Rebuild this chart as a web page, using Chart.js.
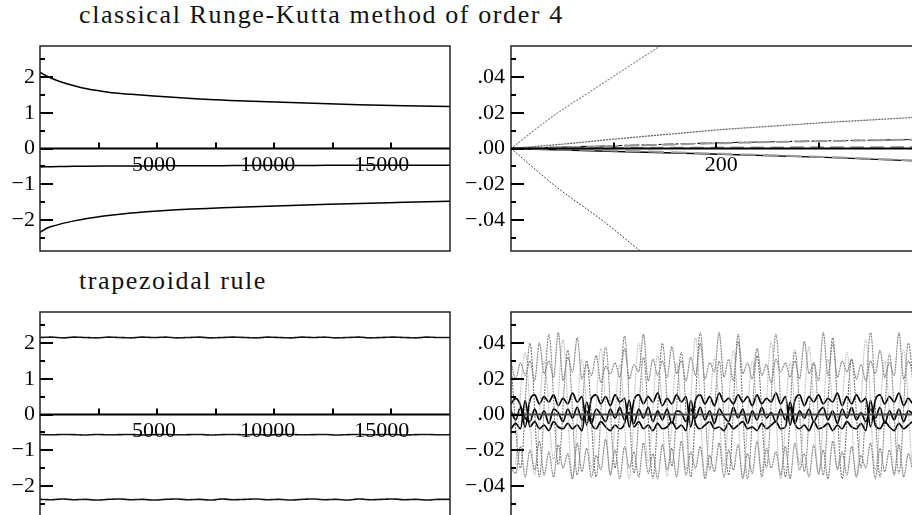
<!DOCTYPE html>
<html>
<head>
<meta charset="utf-8">
<script src="https://cdn.jsdelivr.net/npm/chart.js@4.4.1/dist/chart.umd.min.js"></script>
<style>
  html, body { margin: 0; padding: 0; background: #fff; }
  body { width: 912px; height: 515px; overflow: hidden; position: relative; }
  canvas { position: absolute; }
  .ttl { position: absolute; font-family: "Liberation Serif", serif; font-size: 26px; line-height: 26px;
         letter-spacing: 1.6px; color: #111; white-space: nowrap; }
</style>
</head>
<body>
<div class="ttl" style="left:79px; top:2px;">classical Runge-Kutta method of order 4</div>
<div class="ttl" style="left:79px; top:268px;">trapezoidal rule</div>
<canvas id="tl" width="460" height="280" style="left:0; top:0;"></canvas>
<canvas id="tr" width="480" height="280" style="left:460px; top:0;"></canvas>
<canvas id="bl" width="460" height="260" style="left:0; top:280px;"></canvas>
<canvas id="br" width="480" height="260" style="left:460px; top:280px;"></canvas>
<script>
// ---------------- DATA ----------------
// Top-left: classical RK4, long time
const tlX  = [0, 250, 500, 1000, 1500, 2000, 3000, 4000, 5000, 6000, 7000, 8000, 9000, 10000, 12000, 14000, 16000, 18000];
const tlA  = [2.14, 2.05, 1.97, 1.85, 1.76, 1.68, 1.58, 1.52, 1.47, 1.43, 1.39, 1.36, 1.33, 1.31, 1.27, 1.23, 1.20, 1.18];
const tlB  = [-0.52, -0.515, -0.51, -0.505, -0.50, -0.497, -0.493, -0.49, -0.488, -0.485, -0.483, -0.481, -0.479, -0.477, -0.474, -0.471, -0.469, -0.467];
const tlC  = [-2.35, -2.25, -2.19, -2.10, -2.03, -1.97, -1.88, -1.81, -1.76, -1.72, -1.69, -1.66, -1.64, -1.62, -1.58, -1.54, -1.51, -1.48];

// Top-right: classical RK4, errors at short time
const trAx = [0, 42, 73, 142, 160];
const trA  = [0, 0.019, 0.031, 0.0575, 0.064];
const trBx = [0, 42, 89.5, 123, 140];
const trB  = [0, -0.021, -0.0415, -0.0575, -0.065];
const trCx = [0, 50, 100, 150, 200, 250, 300, 350, 390];
const trC  = [0, 0.0025, 0.0054, 0.0080, 0.0106, 0.0126, 0.0146, 0.0163, 0.0177];
const trLx = [0, 100, 200, 300, 390];
const trD  = [0, 0.0016, 0.0032, 0.0043, 0.0051];
const trE  = [0, 0.0014, 0.0030, 0.0042, 0.0050];
const trF  = [0, 0.0003, 0.0005, 0.0007, 0.0008];
const trG  = [0, -0.0017, -0.0032, -0.0050, -0.0071];
const trH  = [0, -0.0012, -0.0030, -0.0048, -0.0068];

// Bottom-left: trapezoidal rule, long time
const blX = [0,500,1000,1500,2000,2500,3000,3500,4000,4500,5000,5500,6000,6500,7000,7500,8000,8500,9000,9500,10000,10500,11000,11500,12000,12500,13000,13500,14000,14500,15000,15500,16000,16500,17000,17500,18000];
const blA = [2.16,2.17,2.15,2.17,2.16,2.15,2.17,2.16,2.15,2.17,2.16,2.17,2.15,2.16,2.17,2.15,2.16,2.17,2.16,2.15,2.17,2.16,2.15,2.17,2.16,2.17,2.15,2.16,2.17,2.15,2.16,2.17,2.16,2.15,2.17,2.16,2.16];
const blB = [-0.56,-0.57,-0.56,-0.565,-0.575,-0.56,-0.57,-0.565,-0.56,-0.575,-0.565,-0.56,-0.57,-0.565,-0.56,-0.575,-0.565,-0.56,-0.57,-0.56,-0.575,-0.565,-0.56,-0.57,-0.565,-0.56,-0.575,-0.565,-0.56,-0.57,-0.565,-0.56,-0.575,-0.565,-0.56,-0.57,-0.565];
const blC = [-2.38,-2.39,-2.37,-2.39,-2.38,-2.40,-2.38,-2.37,-2.39,-2.38,-2.40,-2.38,-2.37,-2.39,-2.38,-2.40,-2.37,-2.39,-2.38,-2.37,-2.39,-2.38,-2.40,-2.38,-2.37,-2.39,-2.38,-2.40,-2.37,-2.39,-2.38,-2.37,-2.39,-2.38,-2.40,-2.38,-2.38];

// Bottom-right: trapezoidal rule, errors at short time
const brX = [0,4.5,9,13.5,18,22.5,27,31.5,36,40.5,45,49.5,54,58.5,63,67.5,72,76.5,81,85.5,90,94.5,99,103.5,108,112.5,117,121.5,126,130.5,135,139.5,144,148.5,153,157.5,162,166.5,171,175.5,180,184.5,189,193.5,198,202.5,207,211.5,216,220.5,225,229.5,234,238.5,243,247.5,252,256.5,261,265.5,270,274.5,279,283.5,288,292.5,297,301.5,306,310.5,315,319.5,324,328.5,333,337.5,342,346.5,351,355.5,360,364.5,369,373.5,378,382.5,387,391.5];
const brUp = [0.030,0.020,0.029,0.022,0.030,0.019,0.040,0.023,0.030,0.021,0.046,0.019,0.032,0.024,0.043,0.020,0.028,0.022,0.033,0.018,0.027,0.023,0.029,0.021,0.037,0.020,0.028,0.024,0.045,0.019,0.031,0.022,0.030,0.021,0.038,0.023,0.030,0.019,0.032,0.022,0.040,0.020,0.029,0.024,0.046,0.021,0.031,0.019,0.045,0.023,0.029,0.020,0.037,0.022,0.028,0.018,0.031,0.024,0.029,0.021,0.030,0.020,0.041,0.023,0.029,0.019,0.046,0.022,0.040,0.021,0.030,0.024,0.031,0.020,0.028,0.019,0.030,0.023,0.036,0.021,0.029,0.022,0.046,0.020,0.030,0.024,0.031,0.019];
const brLo = [-0.030,-0.033,-0.018,-0.035,-0.020,-0.031,-0.015,-0.034,-0.021,-0.035,-0.017,-0.030,-0.022,-0.036,-0.016,-0.032,-0.019,-0.035,-0.023,-0.031,-0.014,-0.034,-0.020,-0.036,-0.018,-0.030,-0.021,-0.035,-0.016,-0.033,-0.022,-0.036,-0.017,-0.031,-0.019,-0.035,-0.015,-0.034,-0.021,-0.030,-0.018,-0.036,-0.023,-0.032,-0.016,-0.035,-0.020,-0.031,-0.017,-0.036,-0.022,-0.033,-0.015,-0.035,-0.019,-0.030,-0.021,-0.034,-0.018,-0.036,-0.016,-0.031,-0.022,-0.035,-0.017,-0.033,-0.020,-0.036,-0.015,-0.031,-0.021,-0.034,-0.018,-0.035,-0.023,-0.030,-0.016,-0.036,-0.019,-0.032,-0.020,-0.034,-0.017,-0.035,-0.022,-0.031,-0.018,-0.033];
const brSwX1 = [0,9,18,27,36,45,54,63,72,81,90,99,108,117,126,135,144,153,162,171,180,189,198,207,216,225,234,243,252,261,270,279,288,297,306,315,324,333,342,351,360,369,378,387];
const brSw1  = [0.028,-0.030,0.040,-0.035,0.045,-0.028,0.036,-0.034,0.030,-0.035,0.038,-0.030,0.044,-0.033,0.032,-0.036,0.040,-0.029,0.035,-0.035,0.046,-0.031,0.030,-0.034,0.041,-0.036,0.033,-0.030,0.045,-0.035,0.036,-0.032,0.029,-0.034,0.043,-0.036,0.031,-0.030,0.046,-0.035,0.034,-0.033,0.040,-0.031];
const brSwX2 = [4.5,13.5,22.5,31.5,40.5,49.5,58.5,67.5,76.5,85.5,94.5,103.5,112.5,121.5,130.5,139.5,148.5,157.5,166.5,175.5,184.5,193.5,202.5,211.5,220.5,229.5,238.5,247.5,256.5,265.5,274.5,283.5,292.5,301.5,310.5,319.5,328.5,337.5,346.5,355.5,364.5,373.5,382.5,391.5];
const brSw2  = [-0.028,0.035,-0.034,0.030,-0.025,0.042,-0.035,0.031,-0.030,0.037,-0.033,0.028,-0.036,0.040,-0.027,0.033,-0.035,0.029,-0.031,0.043,-0.034,0.032,-0.029,0.036,-0.035,0.030,-0.032,0.041,-0.036,0.029,-0.028,0.038,-0.034,0.031,-0.030,0.035,-0.035,0.042,-0.031,0.030,-0.033,0.036,-0.029,0.032];
const brS1 = [0.006,0.009,0.005,-0.007,0.008,0.011,0.006,0.010,0.007,0.011,0.005,0.009,0.006,0.012,0.007,0.010,-0.006,0.009,0.011,0.006,0.010,0.005,0.011,0.007,0.009,-0.007,0.008,0.011,0.006,0.010,0.007,0.012,0.005,0.009,0.006,0.011,0.007,0.010,-0.007,0.008,0.011,0.006,0.010,0.005,0.012,0.007,0.009,0.006,0.011,0.007,0.010,0.005,0.011,0.006,0.009,0.007,0.012,0.006,0.010,-0.006,0.008,0.011,0.005,0.010,0.007,0.011,0.006,0.009,0.007,0.012,0.005,0.010,0.006,0.011,0.007,0.009,-0.007,0.008,0.011,0.006,0.010,0.007,0.012,0.005,0.009,0.006,0.011,0.007];
const brS2 = [-0.008,-0.005,-0.008,0.008,-0.007,-0.004,-0.008,-0.006,-0.009,-0.004,-0.007,-0.008,-0.005,-0.008,-0.006,-0.009,0.007,-0.005,-0.008,-0.004,-0.007,-0.009,-0.006,-0.008,-0.005,0.008,-0.007,-0.004,-0.008,-0.006,-0.009,-0.005,-0.008,-0.007,-0.004,-0.008,-0.006,-0.009,0.008,-0.005,-0.008,-0.006,-0.004,-0.008,-0.007,-0.009,-0.005,-0.008,-0.006,-0.004,-0.008,-0.007,-0.009,-0.005,-0.008,-0.006,-0.004,-0.008,-0.007,0.007,-0.005,-0.008,-0.006,-0.009,-0.004,-0.008,-0.007,-0.005,-0.009,-0.006,-0.008,-0.004,-0.007,-0.008,-0.005,-0.009,0.008,-0.006,-0.008,-0.004,-0.007,-0.009,-0.005,-0.008,-0.006,-0.004,-0.008,-0.007];
const brS3 = [0.002,-0.003,0.004,-0.002,-0.004,0.003,-0.003,0.002,-0.005,0.003,0.001,-0.004,0.003,-0.002,0.004,-0.003,0.002,-0.005,0.003,0.000,-0.004,0.003,-0.002,0.004,-0.003,0.001,-0.005,0.003,-0.002,0.004,-0.004,0.002,-0.003,0.003,-0.005,0.002,0.001,-0.004,0.003,-0.002,0.004,-0.003,0.002,-0.005,0.003,-0.001,-0.004,0.004,-0.002,0.003,-0.005,0.002,-0.003,0.004,-0.002,0.001,-0.004,0.003,-0.003,0.004,-0.005,0.002,-0.002,0.003,-0.004,0.001,0.004,-0.003,0.002,-0.005,0.003,-0.002,0.004,-0.003,0.001,-0.004,0.003,-0.002,0.004,-0.005,0.002,-0.003,0.003,-0.004,0.002,0.000,-0.004,0.003];

// Axis ranges / ticks
const leftYRange  = [-2.875, 2.875];
const rightYRange = [-0.0575, 0.0575];
const leftXRange  = [0, 18000];
const rightXRange = [0, 390];
const leftXLabels  = [5000, 10000, 15000];
const rightXLabels = [200];

// ---------------- HELPERS ----------------
const FONT = '"Liberation Serif", "Times New Roman", serif';
Chart.defaults.font.family = FONT;
Chart.defaults.color = '#000';

function pts(xs, ys) {
  const n = Math.min(xs.length, ys.length);
  const out = [];
  for (let i = 0; i < n; i++) out.push({ x: xs[i], y: ys[i] });
  return out;
}
const isMult = (v, m) => Math.abs(v / m - Math.round(v / m)) < 1e-6;
const MINUS = '\u2212';
const fmtInt = v => { const r = Math.round(v); return r < 0 ? MINUS + Math.abs(r) : String(r); };
const fmtDec = v => { const s = Math.abs(v).toFixed(2).replace(/^0/, ''); return v < -1e-9 ? MINUS + s : s; };

// per-chart settings for the axis plugin (kept outside Chart.js option resolution)
const AXES = {};

const axesPlugin = {
  id: 'axesDraw',
  afterDatasetsDraw(chart) {
    const o = AXES[chart.canvas.id];
    const { ctx, chartArea: a, scales: { x, y } } = chart;
    ctx.save();
    const y0 = y.getPixelForValue(0);
    // zero line
    ctx.strokeStyle = o.zeroColor;
    ctx.lineWidth = 2;
    ctx.beginPath(); ctx.moveTo(a.left, y0); ctx.lineTo(a.right, y0); ctx.stroke();
    // frame
    ctx.strokeStyle = '#222';
    ctx.lineWidth = 1.5;
    ctx.strokeRect(a.left, a.top, a.right - a.left, a.bottom - a.top);
    // y ticks (inward)
    ctx.strokeStyle = '#000';
    ctx.lineWidth = 2;
    y.ticks.forEach(t => {
      if (t.value <= y.min + 1e-9 || t.value >= y.max - 1e-9) return;
      const py = Math.round(y.getPixelForValue(t.value));
      const len = isMult(t.value, o.yMajor) ? 13 : 5;
      ctx.beginPath(); ctx.moveTo(a.left, py); ctx.lineTo(a.left + len, py); ctx.stroke();
    });
    // x ticks (upward from zero line) with labels below it
    if (o.xTicks) {
      ctx.fillStyle = '#000';
      ctx.font = '22px ' + FONT;
      ctx.textAlign = 'center';
      ctx.textBaseline = 'alphabetic';
      x.ticks.forEach(t => {
        if (t.value <= x.min + 1e-9 || t.value >= x.max - 1e-9) return;
        const px = Math.round(x.getPixelForValue(t.value));
        const len = isMult(t.value, o.xMajor) ? 13 : 6;
        ctx.beginPath(); ctx.moveTo(px, y0); ctx.lineTo(px, y0 - len); ctx.stroke();
      });
      o.xLabels.forEach(v => {
        const px = x.getPixelForValue(v);
        ctx.fillText(String(v), px, y0 + 22);
      });
    }
    ctx.restore();
  }
};

function makeChart(id, c) {
  const fixW = s => { s.width = c.yW; s.paddingTop = 0; s.paddingBottom = 0; };
  const fixH = s => { s.height = 0; s.paddingLeft = 0; s.paddingRight = 0; };
  AXES[id] = c.axes;
  return new Chart(document.getElementById(id), {
    type: 'line',
    data: { datasets: c.datasets },
    options: {
      responsive: false,
      animation: false,
      devicePixelRatio: 1,
      events: [],
      layout: { padding: c.pad },
      elements: { point: { radius: 0 }, line: { cubicInterpolationMode: 'monotone', borderCapStyle: 'round' } },
      plugins: { legend: { display: false }, tooltip: { enabled: false } },
      scales: {
        x: {
          type: 'linear', min: c.xr[0], max: c.xr[1], position: { y: 0 }, afterFit: fixH,
          grid: { display: false, drawTicks: false }, border: { display: false },
          ticks: { stepSize: c.xStep, autoSkip: false, includeBounds: false, maxRotation: 0, minRotation: 0,
                   display: false }
        },
        y: {
          type: 'linear', min: c.yr[0], max: c.yr[1], position: 'left', afterFit: fixW,
          grid: { display: false, drawTicks: false }, border: { display: false },
          ticks: { stepSize: c.yStep, autoSkip: false, includeBounds: false, padding: c.yPad,
                   color: '#000', font: { family: FONT, size: 22 }, callback: c.yLabel }
        }
      }
    },
    plugins: [axesPlugin]
  });
}

const solid = (data, w) => ({ data, borderColor: '#000', borderWidth: w || 1.5, fill: false });
const styled = (data, color, w, dash) => ({ data, borderColor: color, borderWidth: w, borderDash: dash, fill: false });

const leftYLabel  = v => isMult(v, 1) ? fmtInt(v) : '';
const rightYLabel = v => isMult(v, 0.02) ? fmtDec(v) : '';

// ---------------- CHARTS ----------------
makeChart('tl', {
  xr: leftXRange, yr: leftYRange, xStep: 2500, yStep: 0.5, yW: 40, yPad: 5,
  pad: { left: 0, top: 46, right: 10, bottom: 29 },
  yLabel: leftYLabel,
  axes: { xTicks: true, xMajor: 5000, yMajor: 1, zeroColor: '#000', xLabels: leftXLabels },
  datasets: [solid(pts(tlX, tlA)), solid(pts(tlX, tlB)), solid(pts(tlX, tlC))]
});

makeChart('tr', {
  xr: rightXRange, yr: rightYRange, xStep: 100, yStep: 0.01, yW: 51, yPad: 6,
  pad: { left: 0, top: 46, right: 19, bottom: 29 },
  yLabel: rightYLabel,
  axes: { xTicks: true, xMajor: 200, yMajor: 0.02, zeroColor: '#000', xLabels: rightXLabels },
  datasets: [
    styled(pts(trAx, trA), '#888', 1.2, [1, 2.4]),
    styled(pts(trBx, trB), '#333', 1.0, [1, 2.4]),
    styled(pts(trCx, trC), '#666', 1.3, [1, 2]),
    styled(pts(trLx, trE), '#999', 2, [12, 7]),
    styled(pts(trLx, trD), '#111', 1.1, [9, 3, 2, 3]),
    styled(pts(trLx, trF), '#999', 2, [12, 8]),
    styled(pts(trLx, trH), '#999', 2, [14, 9]),
    solid(pts(trLx, trG), 1.4)
  ]
});

makeChart('bl', {
  xr: leftXRange, yr: leftYRange, xStep: 2500, yStep: 0.5, yW: 40, yPad: 5,
  pad: { left: 0, top: 32, right: 10, bottom: 23 },
  yLabel: leftYLabel,
  axes: { xTicks: true, xMajor: 5000, yMajor: 1, zeroColor: '#000', xLabels: leftXLabels },
  datasets: [
    styled(pts(blX, blA), '#111', 1.6, [2, 1]),
    styled(pts(blX, blB), '#111', 1.6, [2, 1]),
    styled(pts(blX, blC), '#111', 1.6, [2, 1])
  ]
});

makeChart('br', {
  xr: rightXRange, yr: rightYRange, xStep: 100, yStep: 0.01, yW: 51, yPad: 6,
  pad: { left: 0, top: 32, right: 19, bottom: 23 },
  yLabel: rightYLabel,
  axes: { xTicks: false, xMajor: 200, yMajor: 0.02, zeroColor: '#444', xLabels: [] },
  datasets: [
    styled(pts(brX, brUp), '#888', 1.2, [1, 1.7]),
    styled(pts(brX, brLo), '#888', 1.2, [1, 1.7]),
    styled(pts(brSwX2, brSw2), '#b0b0b0', 1.0, [1, 1.8]),
    styled(pts(brSwX1, brSw1), '#555', 1.0, [1, 2]),
    solid(pts(brX, brS1), 1.7),
    solid(pts(brX, brS2), 1.7),
    solid(pts(brX, brS3), 1.7)
  ]
});
</script>
</body>
</html>
